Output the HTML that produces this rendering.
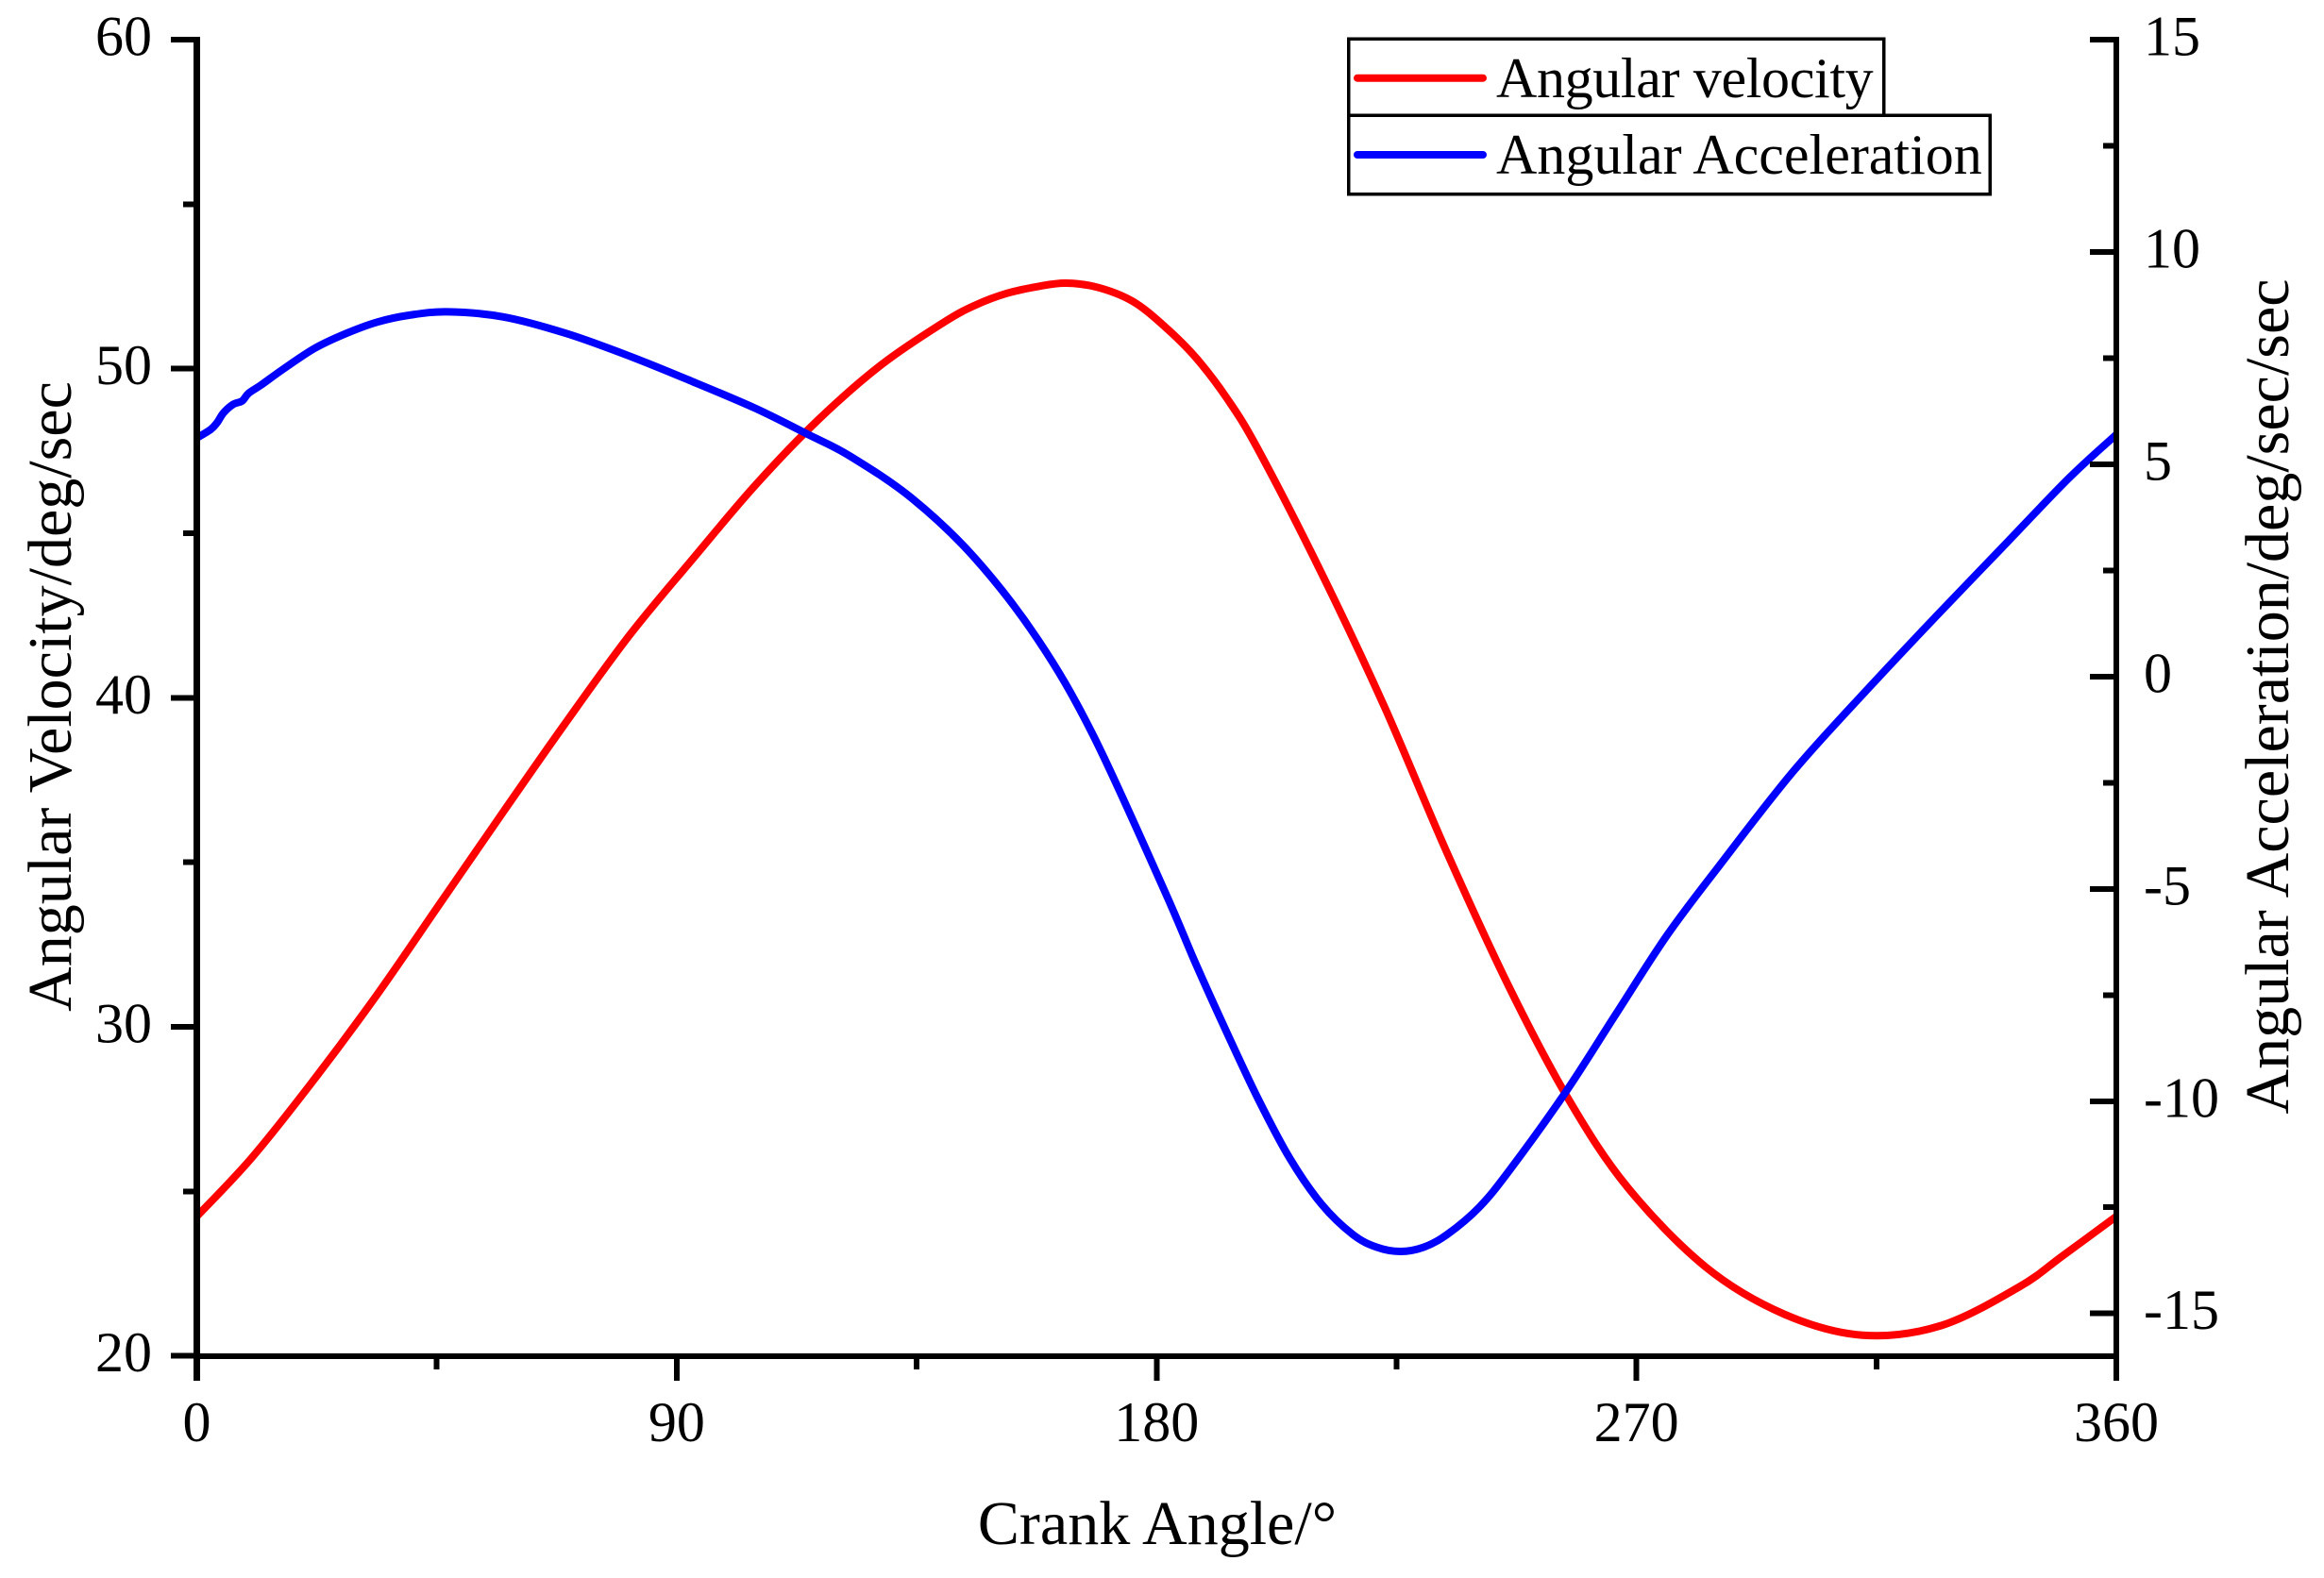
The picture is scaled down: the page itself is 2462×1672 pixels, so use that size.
<!DOCTYPE html>
<html lang="en">
<head>
<meta charset="utf-8">
<title>Crank Angle Chart</title>
<style>
html,body{margin:0;padding:0;background:#fff;}
svg{display:block;}
text{font-family:"Liberation Serif","Times New Roman",serif;font-size:60px;fill:#000;}
text.axis-title{font-size:66px;}
</style>
</head>
<body>
<svg id="chart" xmlns="http://www.w3.org/2000/svg" width="2462" height="1672" viewBox="0 0 2462 1672">
  <rect x="0" y="0" width="2462" height="1672" fill="#fff"/>
  <g id="series-layer"></g>
  <g id="axes-layer"></g>
  <text class="axis-title" x="1226" y="1636" text-anchor="middle">Crank Angle/°</text>
  <text class="axis-title" x="0" y="0" text-anchor="middle" transform="translate(75,738) rotate(-90)">Angular Velocity/deg/sec</text>
  <text class="axis-title" x="0" y="0" text-anchor="middle" transform="translate(2424,738) rotate(-90)">Angular Acceleration/deg/sec/sec</text>
  <g>
    <rect x="1428.5" y="41" width="567" height="81" fill="#fff" stroke="#000" stroke-width="3.5" shape-rendering="crispEdges"/>
    <rect x="1428.5" y="122" width="679.5" height="83.5" fill="#fff" stroke="#000" stroke-width="3.5" shape-rendering="crispEdges"/>
    <line x1="1438" y1="82.7" x2="1571" y2="82.7" stroke="#f00" stroke-width="8" stroke-linecap="round"/>
    <line x1="1438" y1="164" x2="1571" y2="164" stroke="#00f" stroke-width="8" stroke-linecap="round"/>
    <text x="1585" y="103" letter-spacing="-0.35">Angular velocity</text>
    <text x="1585" y="184">Angular Acceleration</text>
  </g>
</svg>
<script>
// Chart data
const velocityAngles = [0,10.3,22.1,33.9,45.7,57.5,69,81.1,92.9,104.7,116.5,128.3,140.1,146,151.9,157.8,163,169,175.5,181.4,187.3,193.2,199.1,210.9,222.7,234.5,246.3,257.3,268.3,283,297.7,312.4,327.1,341.8,350,360];
const velocityValues = [24.24,26.02,28.42,31,33.77,36.54,39.2,41.89,44.2,46.45,48.44,50.11,51.41,51.93,52.29,52.5,52.6,52.47,52.05,51.3,50.35,49.1,47.53,43.8,39.74,35.28,31.15,27.79,25.13,22.7,21.27,20.63,20.92,22.1,23.05,24.24];
const accelAngles = [0,2.6,3.8,5,6.8,8.5,9.7,12.1,16.2,22.1,28,33.9,39.8,47,57.5,69.3,81.1,92.9,104.7,114.5,122.4,134.2,146,157.8,168.1,181.4,187.3,193.2,199.1,205,210.9,216.8,221.3,225.7,230.1,234.5,240.5,246.3,256.6,266.2,275.7,285.5,299.5,313.7,326.2,338.6,351,360];
const accelValues = [5.62,5.82,5.98,6.21,6.41,6.49,6.67,6.87,7.24,7.73,8.08,8.35,8.51,8.59,8.47,8.08,7.55,6.95,6.32,5.71,5.2,4.19,2.78,0.86,-1.38,-5.02,-6.75,-8.39,-9.96,-11.35,-12.42,-13.14,-13.44,-13.54,-13.44,-13.14,-12.5,-11.61,-9.81,-7.94,-6.1,-4.46,-2.22,-0.25,1.42,3.04,4.66,5.7];
const xMajorTicks = [0,90,180,270,360];
const xMinorTicks = [45,135,225,315];
const leftMajorTicks = [20,30,40,50,60];
const leftMinorTicks = [25,35,45,55];
const rightMajorTicks = [-15,-10,-5,0,5,10,15];
const rightMinorTicks = [-12.5,-7.5,-2.5,2.5,7.5,12.5];

// Axis functions
const PLOT_LEFT = 208.5, PLOT_RIGHT = 2242, PLOT_TOP = 42, PLOT_BOTTOM = 1436.7;
const xScale = function (v) { return PLOT_LEFT + (v / 360) * (PLOT_RIGHT - PLOT_LEFT); };
const yLeft = function (v) { return PLOT_BOTTOM - ((v - 20) / 40) * (PLOT_BOTTOM - PLOT_TOP); };
const yRight = function (v) { return PLOT_BOTTOM - ((v + 16) / 31) * (PLOT_BOTTOM - PLOT_TOP); };

const NS = 'http://www.w3.org/2000/svg';
const seriesLayer = document.getElementById('series-layer');
const axesLayer = document.getElementById('axes-layer');

function smoothPath(xs, ys) {
  let d = 'M' + xs[0].toFixed(2) + ' ' + ys[0].toFixed(2);
  for (let i = 0; i < xs.length - 1; i++) {
    const a = Math.max(i - 1, 0), b = i + 1, c = Math.min(i + 2, xs.length - 1);
    const c1x = xs[i] + (xs[b] - xs[a]) / 6, c1y = ys[i] + (ys[b] - ys[a]) / 6;
    const c2x = xs[b] - (xs[c] - xs[i]) / 6, c2y = ys[b] - (ys[c] - ys[i]) / 6;
    d += 'C' + c1x.toFixed(2) + ' ' + c1y.toFixed(2) + ' ' + c2x.toFixed(2) + ' ' + c2y.toFixed(2) + ' ' + xs[b].toFixed(2) + ' ' + ys[b].toFixed(2);
  }
  return d;
}

const velocityLine = document.createElementNS(NS, 'path');


velocityLine.setAttribute('d', smoothPath(velocityAngles.map(xScale), velocityValues.map(yLeft)));
velocityLine.setAttribute('fill', 'none');
velocityLine.setAttribute('stroke', '#f00');
velocityLine.setAttribute('stroke-width', '8');
seriesLayer.appendChild(velocityLine);

const accelLine = document.createElementNS(NS, 'path');


accelLine.setAttribute('d', smoothPath(accelAngles.map(xScale), accelValues.map(yRight)));
accelLine.setAttribute('fill', 'none');
accelLine.setAttribute('stroke', '#00f');
accelLine.setAttribute('stroke-width', '8');
seriesLayer.appendChild(accelLine);

function addRect(name, x, y, w, h) {
  const r = document.createElementNS(NS, 'rect');
  
  
  r.setAttribute('x', x);
  r.setAttribute('y', y);
  r.setAttribute('width', w);
  r.setAttribute('height', h);
  r.setAttribute('fill', '#000');
  r.setAttribute('shape-rendering', 'crispEdges');
  axesLayer.appendChild(r);
}

function addLabel(name, x, y, anchor, str) {
  const t = document.createElementNS(NS, 'text');
  
  
  t.setAttribute('x', x);
  t.setAttribute('y', y);
  t.setAttribute('text-anchor', anchor);
  t.textContent = str;
  axesLayer.appendChild(t);
}

// Axis lines
addRect('left-y-axis-line', 205, 39, 7, 1424);
addRect('right-y-axis-line', 2239, 39, 6, 1424);
addRect('x-axis-line', 205, 1434, 2040, 6);

// X ticks
xMajorTicks.forEach(function (v) {
  const x = xScale(v);
  addRect('x-major-tick', x - 3, 1436, 6, 27);
  addLabel('x-tick-label', x, 1527, 'middle', String(v));
});
xMinorTicks.forEach(function (v) {
  addRect('x-minor-tick', xScale(v) - 3, 1436, 6, 15);
});

// Left Y ticks
leftMajorTicks.forEach(function (v) {
  const y = yLeft(v);
  addRect('left-major-tick', 181, y - 3, 27, 6);
  addLabel('left-tick-label', 161, y + 16.5, 'end', String(v));
});
leftMinorTicks.forEach(function (v) {
  addRect('left-minor-tick', 194, yLeft(v) - 3, 14, 6);
});

// Right Y ticks
rightMajorTicks.forEach(function (v) {
  const y = yRight(v);
  addRect('right-major-tick', 2214, y - 3, 27, 6);
  addLabel('right-tick-label', 2271, y + 16.5, 'start', String(v));
});
rightMinorTicks.forEach(function (v) {
  addRect('right-minor-tick', 2228, yRight(v) - 3, 13, 6);
});
</script>
</body>
</html>
